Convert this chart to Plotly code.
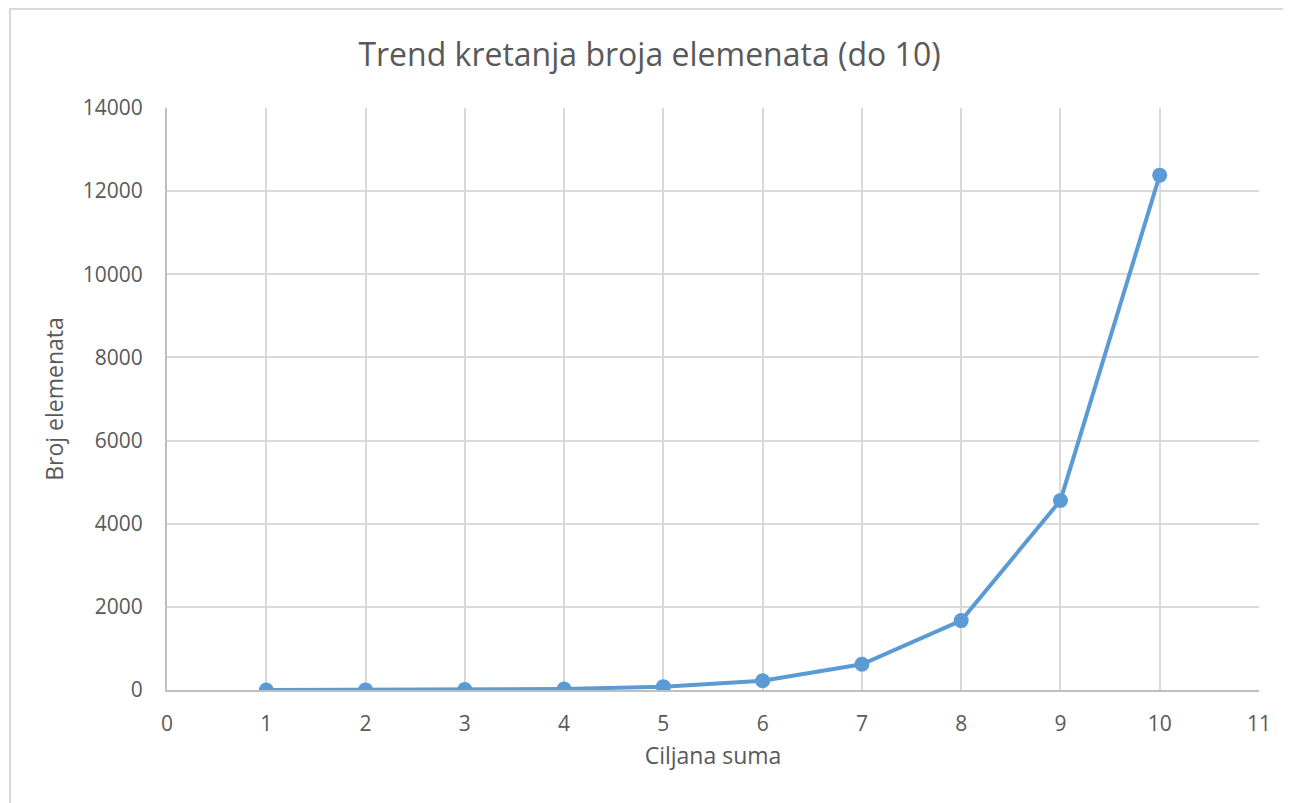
import plotly.graph_objects as go

ciljana_suma = [1, 2, 3, 4, 5, 6, 7, 8, 9, 10]
broj_elemenata = [1, 3, 10, 25, 80, 224, 619, 1670, 4560, 12385]

OFF = 8  # default page body margin
W, H = 1291 - OFF, 803 - OFF
L, T = 167 - OFF, 108 - OFF
R = W - (1259 - OFF)
B = H - (690 - OFF)
pw, ph = W - L - R, H - T - B

def px_x(p):  # page pixel -> paper
    return (p - OFF - L) / pw

def px_y(p):
    return (H - B - (p - OFF)) / ph

font_fam = "Open Sans, Liberation Sans, sans-serif"
grey = "#595959"

fig = go.Figure()
fig.add_trace(go.Scatter(
    x=ciljana_suma, y=broj_elemenata, mode="lines+markers",
    line=dict(color="#5b9bd5", width=4),
    marker=dict(color="#5b9bd5", size=15),
    showlegend=False,
))

fig.update_layout(
    width=W, height=H,
    margin=dict(l=L, r=R, t=T, b=B),
    paper_bgcolor="white", plot_bgcolor="white",
    title=dict(text="Trend kretanja broja elemenata (do 10)", x=0.5, xanchor="center",
               y=1 - (55 - OFF) / H, yanchor="middle",
               font=dict(family=font_fam, size=32, color=grey)),
    font=dict(family=font_fam, color=grey),
    xaxis=dict(range=[0, 11], dtick=1, tick0=0, showgrid=True, gridcolor="#d9d9d9", gridwidth=2,
               showline=True, linecolor="#bfbfbf", linewidth=2, zeroline=False,
               ticks="outside", ticklen=14, tickcolor="rgba(0,0,0,0)",
               tickfont=dict(size=21, color=grey),
               title=dict(text="Ciljana suma", font=dict(size=23, color=grey), standoff=12)),
    yaxis=dict(range=[0, 14000], dtick=2000, tickformat="d", showgrid=True, gridcolor="#d9d9d9", gridwidth=2,
               showline=True, linecolor="#bfbfbf", linewidth=2, zeroline=False,
               ticks="outside", ticklen=18, tickcolor="rgba(0,0,0,0)",
               tickfont=dict(size=21, color=grey),
               title=dict(text="Broj elemenata", font=dict(size=23, color=grey), standoff=13)),
    shapes=[dict(type="rect", xref="paper", yref="paper",
                 x0=px_x(10), x1=px_x(1340), y0=px_y(9), y1=px_y(840),
                 line=dict(color="#d9d9d9", width=2), layer="below")],
)

fig.write_html("out.html")
